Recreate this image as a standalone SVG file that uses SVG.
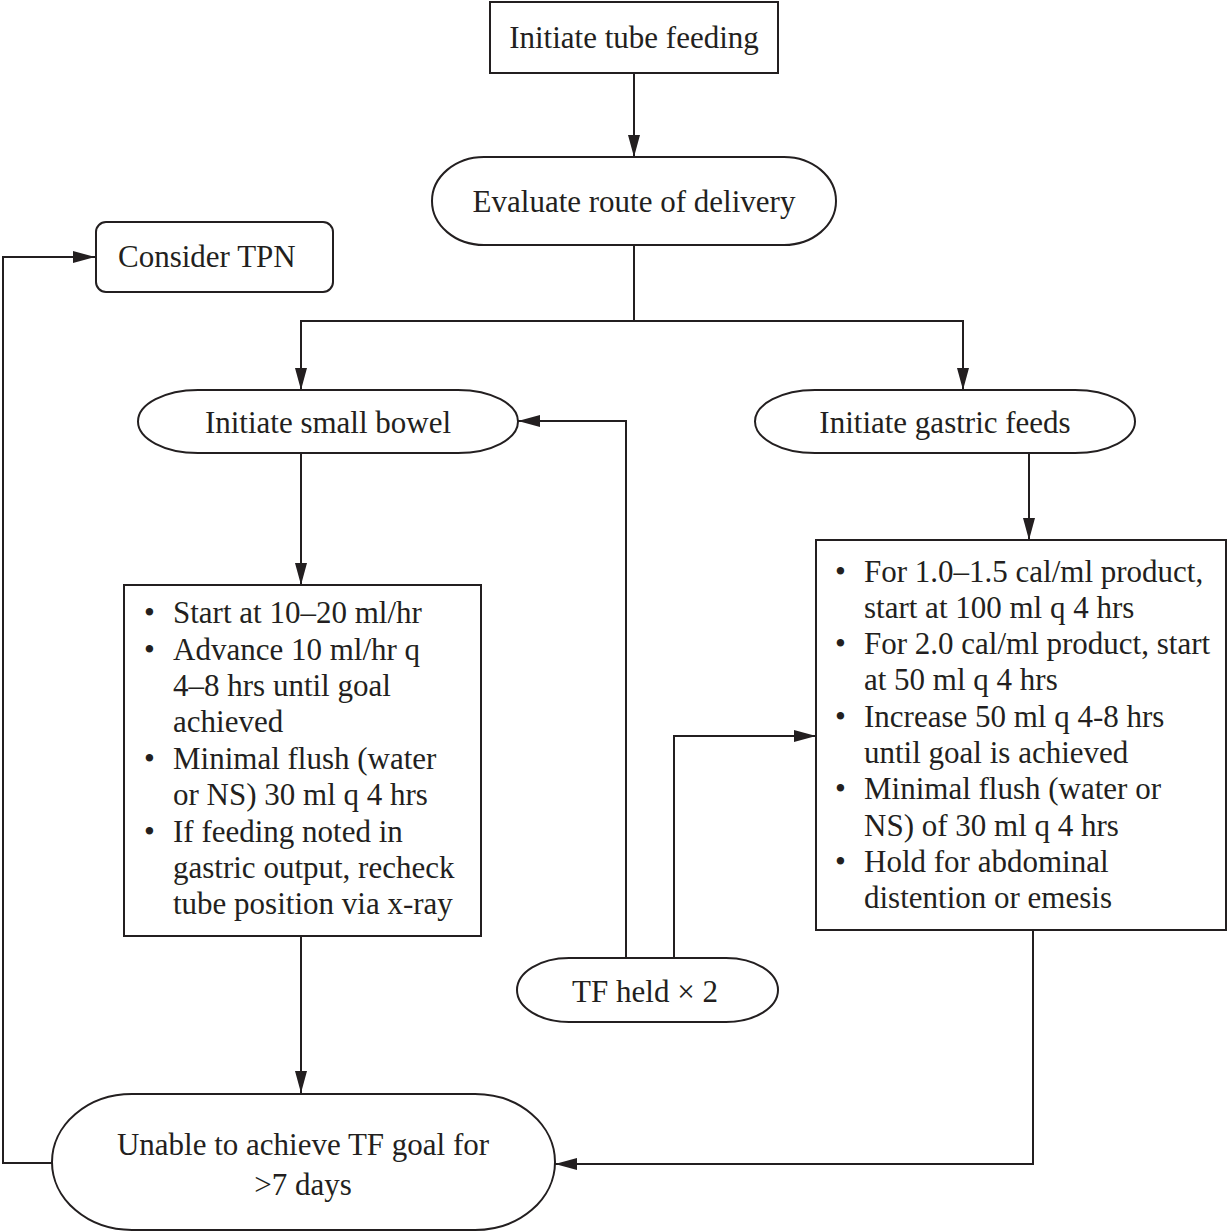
<svg xmlns="http://www.w3.org/2000/svg" width="1228" height="1232" viewBox="0 0 1228 1232">
<style>
.n{fill:#fff;stroke:#231f20;stroke-width:2}
.c{fill:none;stroke:#231f20;stroke-width:2}
text{font-family:"Liberation Serif","Times New Roman",serif;font-size:31px;fill:#231f20}
.m{text-anchor:middle}
</style>
<defs>
<marker id="ah" viewBox="0 0 22 12" refX="22" refY="6" markerWidth="22" markerHeight="12" markerUnits="userSpaceOnUse" orient="auto">
<path d="M0,0 L22,6 L0,12 Z" fill="#231f20"/>
</marker>
</defs>
<rect width="1228" height="1232" fill="#fff"/>
<g id="connectors">
<path class="c" d="M634,73 V157" marker-end="url(#ah)"/>
<path class="c" d="M634,245 V321 H301 V390" marker-end="url(#ah)"/>
<path class="c" d="M634,321 H963 V390" marker-end="url(#ah)"/>
<path class="c" d="M301,453 V585" marker-end="url(#ah)"/>
<path class="c" d="M1029,453 V540" marker-end="url(#ah)"/>
<path class="c" d="M626,958 V421 H518" marker-end="url(#ah)"/>
<path class="c" d="M674,958 V736 H816" marker-end="url(#ah)"/>
<path class="c" d="M301,936 V1093" marker-end="url(#ah)"/>
<path class="c" d="M1033,930 V1164 H555" marker-end="url(#ah)"/>
<path class="c" d="M52,1163 H3 V257 H95" marker-end="url(#ah)"/>
</g>
<g id="n1">
<rect class="n" x="490" y="2" width="288" height="71"/>
<text class="m" x="634" y="48">Initiate tube feeding</text>
</g>
<g id="n2">
<rect class="n" x="432" y="157" width="404" height="88" rx="52" ry="44"/>
<text class="m" x="634" y="212">Evaluate route of delivery</text>
</g>
<g id="n3">
<rect class="n" x="96" y="222" width="237" height="70" rx="10" ry="10"/>
<text x="118" y="267">Consider TPN</text>
</g>
<g id="n4">
<rect class="n" x="138" y="390" width="380" height="63" rx="60" ry="31.5"/>
<text class="m" x="328" y="433">Initiate small bowel</text>
</g>
<g id="n5">
<rect class="n" x="755" y="390" width="380" height="63" rx="60" ry="31.5"/>
<text class="m" x="945" y="433">Initiate gastric feeds</text>
</g>
<g id="n6">
<rect class="n" x="124" y="585" width="357" height="351"/>
<text x="144" y="623">•</text><text x="173" y="623">Start at 10–20 ml/hr</text>
<text x="144" y="660">•</text><text x="173" y="660">Advance 10 ml/hr q</text>
<text x="173" y="696">4–8 hrs until goal</text>
<text x="173" y="732">achieved</text>
<text x="144" y="769">•</text><text x="173" y="769">Minimal flush (water</text>
<text x="173" y="805">or NS) 30 ml q 4 hrs</text>
<text x="144" y="842">•</text><text x="173" y="842">If feeding noted in</text>
<text x="173" y="878">gastric output, recheck</text>
<text x="173" y="914">tube position via x-ray</text>
</g>
<g id="n7">
<rect class="n" x="816" y="540" width="410" height="390"/>
<text x="835" y="582">•</text><text x="864" y="582">For 1.0–1.5 cal/ml product,</text>
<text x="864" y="618">start at 100 ml q 4 hrs</text>
<text x="835" y="654">•</text><text x="864" y="654">For 2.0 cal/ml product, start</text>
<text x="864" y="690">at 50 ml q 4 hrs</text>
<text x="835" y="727">•</text><text x="864" y="727">Increase 50 ml q 4-8 hrs</text>
<text x="864" y="763">until goal is achieved</text>
<text x="835" y="799">•</text><text x="864" y="799">Minimal flush (water or</text>
<text x="864" y="836">NS) of 30 ml q 4 hrs</text>
<text x="835" y="872">•</text><text x="864" y="872">Hold for abdominal</text>
<text x="864" y="908">distention or emesis</text>
</g>
<g id="n8">
<rect class="n" x="517" y="958" width="261" height="64" rx="52" ry="32"/>
<text class="m" x="645" y="1002">TF held × 2</text>
</g>
<g id="n9">
<rect class="n" x="52" y="1094" width="503" height="136" rx="80" ry="68"/>
<text class="m" x="303" y="1155">Unable to achieve TF goal for</text>
<text class="m" x="303" y="1195">&gt;7 days</text>
</g>
</svg>
